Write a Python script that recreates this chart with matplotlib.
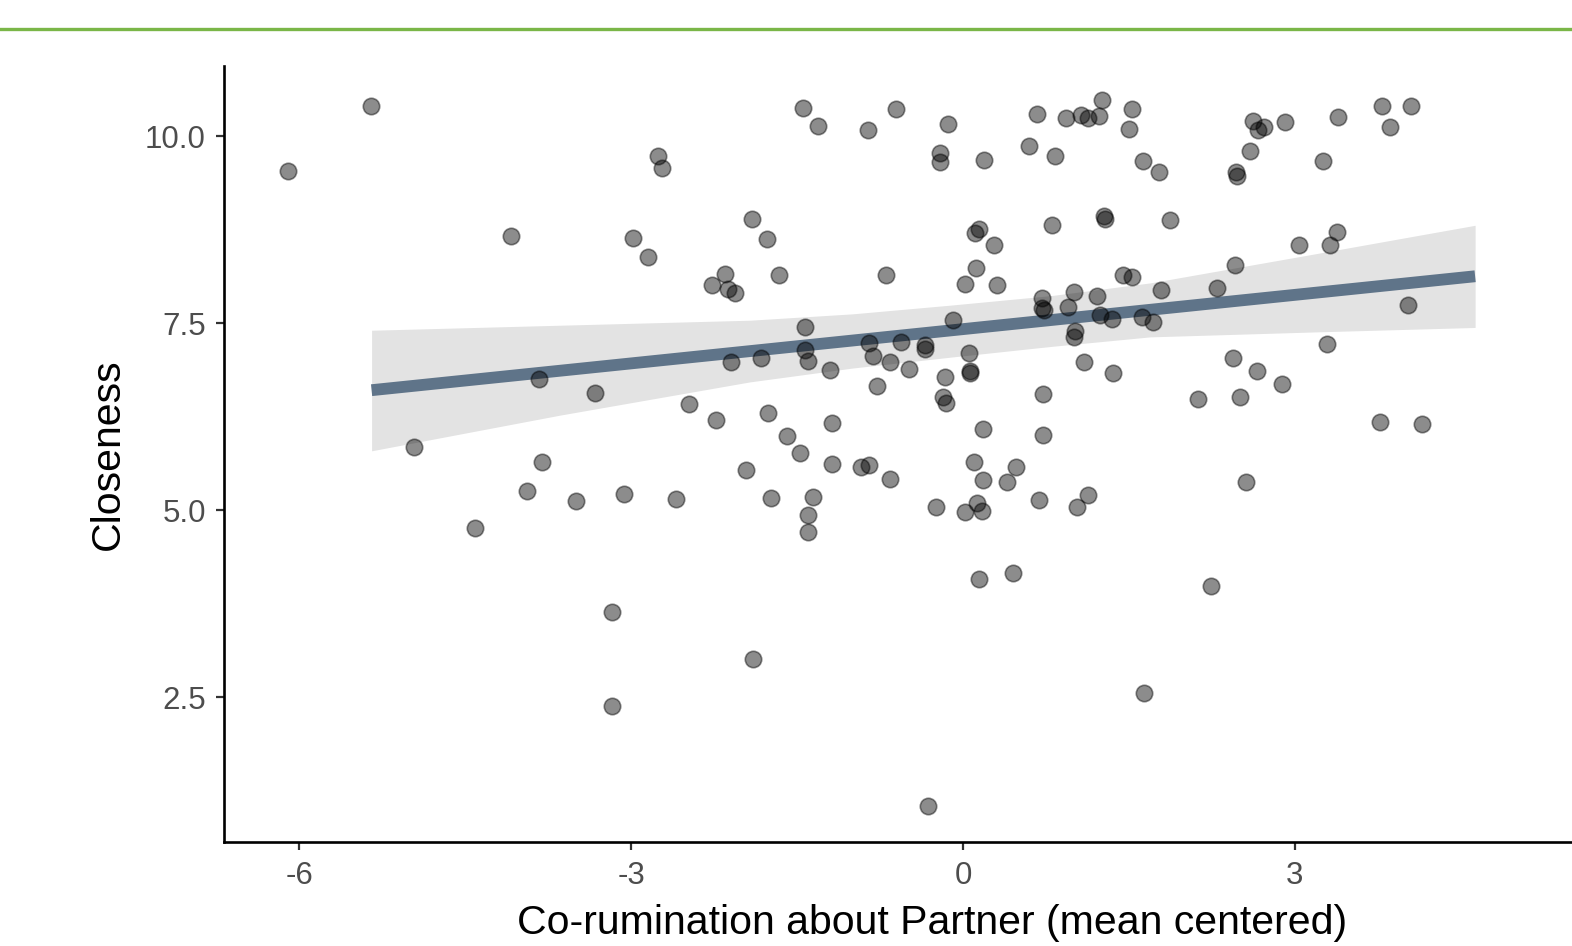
import matplotlib.pyplot as plt
from matplotlib.lines import Line2D

plt.rcParams['font.family'] = ['Liberation Sans', 'DejaVu Sans']

# co-rumination (mean centered) and closeness
corum = [
    -6.10, -5.35, -4.09, -2.98, -2.85, -2.76, -2.72,
    -1.45, -1.31, -0.86, -0.61, -0.14, -0.21, -0.21, 0.19, 0.67, 0.93, 1.07, 1.13, 1.23, 1.26,
    0.60, 0.83, -1.91, -1.77, -2.15, -2.27, -2.12, -2.06, -1.66, -0.70,
    0.14, 0.11, 0.28, 0.12, 0.02, 0.31, 0.80, 1.27, 1.28,
    0.71, 0.71, 0.73, 1.00, 0.95, 1.21, 1.24, 1.01, 1.00, -1.43, -0.09, 0.05,
    1.45, 1.53, 1.35, 1.62, 1.72, 1.79, 1.09, 1.36, 0.72, 0.72, 1.13, 1.03, 0.69,
    0.48, 0.40, 0.18, 0.10, 0.18, 0.13, 0.17, 0.02, -0.24, 0.06, 0.06, -0.16,
    -0.18, -0.15, -0.34, -0.34, -0.56, -0.49, -0.66, -0.85, -0.81, -0.78,
    -1.43, -1.40, -1.83, -2.10, -1.20, -1.76, -1.18, -1.59, -1.47, -1.96, -1.18,
    -0.92, -0.85, -0.66, -1.74, -1.36, -1.40, -1.40,
    -3.83, -3.33, -2.48, -2.23, -4.96, -3.81, -3.94, -3.50, -3.06, -2.59, -4.41,
    1.53, 1.50, 1.63, 1.77, 2.62, 2.67, 2.72, 2.91, 2.59, 2.47, 2.48, 3.39, 3.25,
    3.79, 4.05, 3.86, 1.87, 3.04, 3.32, 3.38, 2.46, 2.30, 4.02, 3.29, 2.44,
    2.66, 2.88, 2.12, 2.50, 3.77, 4.15, 2.56,
    -3.17, -1.90, -3.17, -0.32, 0.14, 0.45, 2.24, 1.64,
]
closeness = [
    9.54, 10.41, 8.67, 8.64, 8.38, 9.74, 9.58,
    10.38, 10.14, 10.09, 10.36, 10.16, 9.78, 9.66, 9.68, 10.30, 10.25, 10.29, 10.24, 10.27, 10.48,
    9.87, 9.74, 8.89, 8.63, 8.16, 8.01, 7.96, 7.90, 8.15, 8.14,
    8.76, 8.70, 8.54, 8.24, 8.03, 8.01, 8.81, 8.93, 8.89,
    7.84, 7.71, 7.67, 7.92, 7.72, 7.86, 7.61, 7.40, 7.32, 7.45, 7.54, 7.10,
    8.14, 8.12, 7.56, 7.58, 7.52, 7.95, 6.98, 6.84, 6.55, 6.00, 5.20, 5.04, 5.14,
    5.58, 5.37, 5.40, 5.65, 6.08, 5.09, 4.99, 4.98, 5.04, 6.86, 6.84, 6.78,
    6.51, 6.43, 7.21, 7.15, 7.25, 6.89, 6.98, 7.23, 7.06, 6.66,
    7.14, 7.00, 7.04, 6.98, 6.87, 6.30, 6.17, 5.99, 5.77, 5.53, 5.62,
    5.58, 5.60, 5.42, 5.16, 5.17, 4.93, 4.71,
    6.75, 6.57, 6.42, 6.20, 5.85, 5.64, 5.25, 5.12, 5.21, 5.15, 4.76,
    10.37, 10.10, 9.67, 9.52, 10.20, 10.09, 10.12, 10.19, 9.80, 9.52, 9.47, 10.26, 9.67,
    10.40, 10.41, 10.13, 8.88, 8.54, 8.54, 8.72, 8.28, 7.97, 7.74, 7.22, 7.04,
    6.86, 6.69, 6.49, 6.51, 6.18, 6.15, 5.37,
    3.64, 3.01, 2.38, 1.04, 4.08, 4.16, 3.98, 2.55,
]

# linear fit and its 95% band
fit_x = [-5.346, 4.629]
fit_y = [6.604, 8.128]
band_x = [-5.346, -3.644, -1.926, -1.0, -0.118, 0.8, 1.691, 3.198, 4.629]
band_hi = [7.406, 7.473, 7.540, 7.625, 7.741, 7.870, 8.039, 8.432, 8.810]
band_lo = [5.793, 6.270, 6.715, 6.900, 7.045, 7.190, 7.317, 7.384, 7.443]

fig = plt.figure(figsize=(15.72, 9.46), dpi=100)
# panel runs past the right edge of the picture
ax = fig.add_axes([0.1425, 0.1099, 0.9008, 0.8203])

ax.fill_between(band_x, band_lo, band_hi, color='#e3e3e3', linewidth=0, zorder=1)
ax.plot(fit_x, fit_y, color='#5f7489', linewidth=8.5, solid_capstyle='butt', zorder=2)
ax.scatter(corum, closeness, s=140, color='black', alpha=0.45, edgecolors='black',
           linewidths=1.2, zorder=3)

ax.set_xlim(-6.68, 6.12)
ax.set_ylim(0.56, 10.94)
ax.set_xticks([-6, -3, 0, 3])
ax.set_xticklabels(['-6', '-3', '0', '3'])
ax.set_yticks([2.5, 5.0, 7.5, 10.0])
ax.set_yticklabels(['2.5', '5.0', '7.5', '10.0'])

for side in ['top', 'right']:
    ax.spines[side].set_visible(False)
for side in ['left', 'bottom']:
    ax.spines[side].set_linewidth(1.9)
    ax.spines[side].set_color('black')
ax.tick_params(length=6, width=1.6, color='#333333', labelsize=22.5,
               labelcolor='#4d4d4d', pad=8)
ax.tick_params(axis='y', pad=7)

ax.set_xlabel('Co-rumination about Partner (mean centered)', fontsize=29.5, labelpad=9)
ax.set_ylabel('Closeness', fontsize=29.5, labelpad=13)

# green rule at the top of the page
fig.add_artist(Line2D([0, 1], [0.969, 0.969], transform=fig.transFigure,
                      color='#7ab648', linewidth=2.4))

fig.savefig('out.png', dpi=100)
